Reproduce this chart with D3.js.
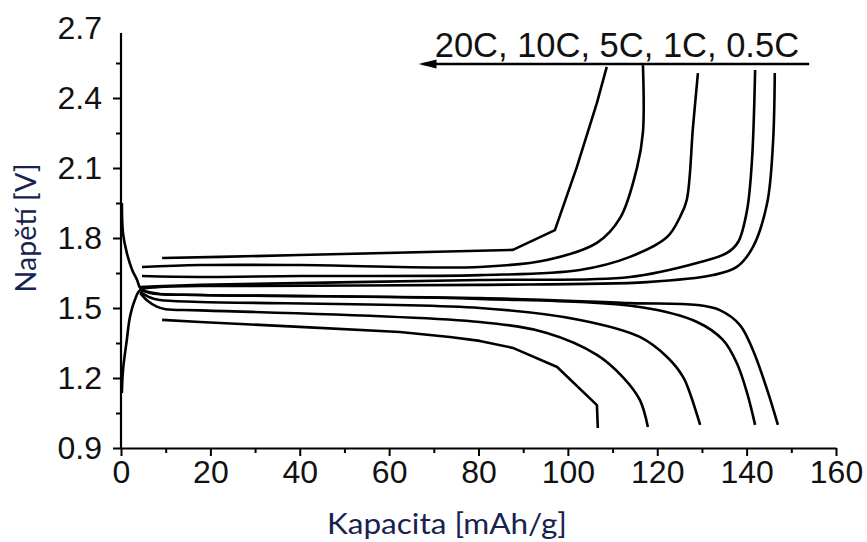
<!DOCTYPE html>
<html><head><meta charset="utf-8">
<script src="https://cdnjs.cloudflare.com/ajax/libs/d3/7.8.5/d3.min.js"></script>
<style>
html,body{margin:0;padding:0;background:#fff;}
svg{display:block;}
</style></head>
<body>
<svg id="chart" width="867" height="542"></svg>
<script>
// ---- data: [capacity mAh/g, voltage V] ----
const rates = ["20C", "10C", "5C", "1C", "0.5C"];
const charge20C = [[9.2,1.714],[22.2,1.719],[40,1.727],[87.7,1.749],[97.1,1.834],[102,2.104],[106.5,2.379],[108.7,2.533]];
const charge10C = [[4.7,1.676],[17.7,1.684],[40,1.684],[80.3,1.676],[95.3,1.706],[106.5,1.779],[111.7,1.886],[115.5,2.104],[116.8,2.254],[116.8,2.541]];
const charge5C  = [[4.7,1.637],[17.7,1.633],[40,1.637],[80.3,1.641],[102.7,1.663],[113.9,1.719],[122.2,1.804],[125.1,1.89],[126.6,1.963],[128,2.276],[129.1,2.507]];
const charge1C  = [[4.3,1.59],[17.7,1.599],[80.3,1.62],[113.9,1.633],[128.9,1.693],[135.6,1.736],[138.1,1.783],[140.1,1.92],[141.2,2.134],[141.9,2.52]];
const charge05C = [[0.2,1.136],[0.45,1.234],[1.3,1.363],[2.0,1.461],[3.1,1.534],[4.3,1.577],[8.7,1.59],[17.7,1.594],[80.3,1.599],[117.7,1.611],[132.5,1.641],[137.8,1.676],[141.4,1.761],[144.6,1.95],[145.9,2.207],[146.3,2.507]];
const discharge20C = [[9.2,1.449],[17.7,1.44],[40,1.419],[62.4,1.397],[73.6,1.376],[80.3,1.359],[87.7,1.329],[97.6,1.247],[106.5,1.084],[106.7,0.986]];
const discharge10C = [[4.3,1.564],[6,1.53],[8,1.506],[10,1.495],[17.7,1.49],[80.3,1.44],[95.3,1.393],[106.5,1.299],[112.3,1.204],[116.1,1.106],[117.9,0.99]];
const discharge5C  = [[4.3,1.569],[6.5,1.545],[8.7,1.534],[17.7,1.526],[80.3,1.5],[102.7,1.449],[116.1,1.376],[122.2,1.29],[125.8,1.204],[127.3,1.136],[129.6,0.999]];
const discharge1C  = [[4.3,1.577],[8.7,1.56],[17.7,1.556],[80.3,1.539],[116.1,1.504],[128.9,1.44],[134.7,1.363],[137.8,1.264],[140.1,1.136],[141.9,0.999]];
const discharge05C = [[0.2,1.95],[0.45,1.821],[1.3,1.736],[2.5,1.663],[3.6,1.62],[4.3,1.586],[6.5,1.564],[17.7,1.556],[80.3,1.543],[113.9,1.521],[128.9,1.513],[134,1.491],[138.5,1.427],[141.4,1.32],[144.6,1.149],[147,0.999]];
const xTicks = [0,20,40,60,80,100,120,140,160];
const xMinor = [10,30,50,70,90,110,130,150];
const yTicks = [0.9,1.2,1.5,1.8,2.1,2.4,2.7];
const yMinor = [1.05,1.35,1.65,1.95,2.25,2.55];
const xTitle = "Kapacita [mAh/g]";
const yTitle = "Napětí [V]";

const smoothCurves = [charge10C,charge5C,charge1C,charge05C,
                      discharge10C,discharge5C,discharge1C,discharge05C];
const kinkedCurves = [charge20C, discharge20C];

const svg = d3.select("#chart");
const x = d3.scaleLinear().domain([0,160]).range([121,836]);
const y = d3.scaleLinear().domain([0.9,2.7]).range([448,28]);

const tickFont = "'Liberation Sans', Arial, sans-serif";
const titleFont = "Lato, 'Open Sans', sans-serif";
const titleColor = "#17234f";

// X axis
const xAxis = svg.append("g").attr("transform","translate(0,448)")
  .call(d3.axisBottom(x).tickValues(xTicks).tickSize(8).tickSizeOuter(0).tickPadding(4).tickFormat(d3.format("d")));
xAxis.select(".domain").attr("stroke","#000").attr("stroke-width",2.2);
xAxis.selectAll(".tick line").attr("stroke","#000").attr("stroke-width",2);
xAxis.selectAll(".tick text").attr("font-family",tickFont).attr("font-size",32).attr("fill","#111");
const xAxisMinor = svg.append("g").attr("transform","translate(0,448)")
  .call(d3.axisBottom(x).tickValues(xMinor).tickSize(5).tickSizeOuter(0).tickFormat(""));
xAxisMinor.select(".domain").remove();
xAxisMinor.selectAll(".tick line").attr("stroke","#000").attr("stroke-width",2);

// Y axis
const yAxis = svg.append("g").attr("transform","translate(121,0)")
  .call(d3.axisLeft(y).tickValues(yTicks).tickSize(8).tickSizeOuter(0).tickPadding(11).tickFormat(d3.format(".1f")));
yAxis.select(".domain").attr("stroke","#000").attr("stroke-width",2.2).attr("d","M0,448V33");
yAxis.selectAll(".tick line").attr("stroke","#000").attr("stroke-width",2)
  .filter(d => d === 2.7).remove();
yAxis.selectAll(".tick text").attr("font-family",tickFont).attr("font-size",32).attr("fill","#111");
const yAxisMinor = svg.append("g").attr("transform","translate(121,0)")
  .call(d3.axisLeft(y).tickValues(yMinor).tickSize(5).tickSizeOuter(0).tickFormat(""));
yAxisMinor.select(".domain").remove();
yAxisMinor.selectAll(".tick line").attr("stroke","#000").attr("stroke-width",2);

// curves
const smoothLine = d3.line().x(d => x(d[0])).y(d => y(d[1])).curve(d3.curveCatmullRom.alpha(0.5));
const kinkLine = d3.line().x(d => x(d[0])).y(d => y(d[1])).curve(d3.curveLinear);
const g = svg.append("g").attr("fill","none").attr("stroke","#000")
  .attr("stroke-width",2.6).attr("stroke-linejoin","round");
g.selectAll("path.s").data(smoothCurves).join("path").attr("class","s").attr("d", smoothLine);
g.selectAll("path.k").data(kinkedCurves).join("path").attr("class","k").attr("d", kinkLine);

// legend text + arrow
svg.append("text").attr("x",x(70.2)).attr("y",57).attr("font-family",tickFont)
  .attr("font-size",34.5).attr("fill","#111").text(rates.join(", "));
svg.append("line").attr("x1",x(67.5)).attr("x2",x(154)).attr("y1",64).attr("y2",64)
  .attr("stroke","#000").attr("stroke-width",2.4);
svg.append("path").attr("d",`M${x(66.6)},64 L${x(70.6)},59.5 L${x(70.6)},68.5 Z`).attr("fill","#000");

// axis titles
svg.append("text").attr("x",447).attr("y",534).attr("text-anchor","middle")
  .attr("font-family",titleFont).attr("font-size",29).attr("fill",titleColor)
  .attr("textLength",240).attr("lengthAdjust","spacingAndGlyphs").text(xTitle);
svg.append("text").attr("transform","translate(36,228) rotate(-90)").attr("text-anchor","middle")
  .attr("font-family",titleFont).attr("font-size",29).attr("fill",titleColor)
  .attr("textLength",129).attr("lengthAdjust","spacingAndGlyphs").text(yTitle);
</script>
</body></html>
